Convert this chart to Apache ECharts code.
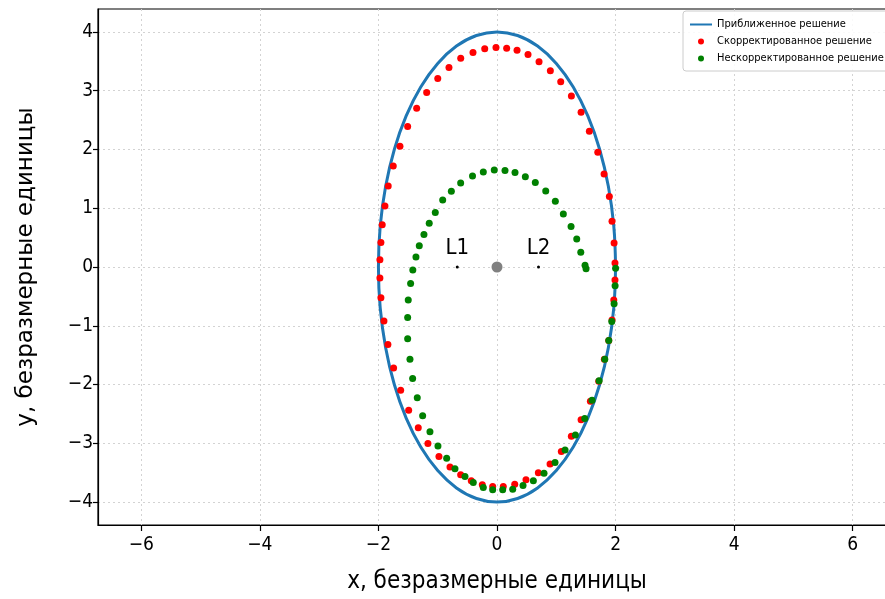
<!DOCTYPE html>
<html>
<head>
<meta charset="utf-8">
<script src="https://cdn.jsdelivr.net/npm/echarts@6/dist/echarts.min.js"></script>
<style>
html,body{margin:0;padding:0;background:#fff;overflow:hidden;width:885px;height:599px;}
#chart{width:896px;height:599px;}
</style>
</head>
<body>
<div id="chart"></div>
<script>
// Tick labels
const xTicks = [-6, -4, -2, 0, 2, 4, 6];
const yTicks = [-4, -3, -2, -1, 0, 1, 2, 3, 4];

// Approximate solution (blue line)
const blueX = [2, 1.970, 1.879, 1.732, 1.532, 1.286, 1.0, 0.684, 0.347, 0,
  -0.347, -0.684, -1.0, -1.286, -1.532, -1.732, -1.879, -1.970, -2,
  -1.970, -1.879, -1.732, -1.532, -1.286, -1.0, -0.684, -0.347, 0,
  0.347, 0.684, 1.0, 1.286, 1.532, 1.732, 1.879, 1.970, 2];
const blueY = [0, 0.695, 1.368, 2.0, 2.571, 3.064, 3.464, 3.759, 3.939, 4,
  3.939, 3.759, 3.464, 3.064, 2.571, 2.0, 1.368, 0.695, 0,
  -0.695, -1.368, -2.0, -2.571, -3.064, -3.464, -3.759, -3.939, -4,
  -3.939, -3.759, -3.464, -3.064, -2.571, -2.0, -1.368, -0.695, 0];

// Corrected solution (red points)
const redX = [1.99, 1.975, 1.94, 1.895, 1.806, 1.700, 1.558,
  1.418, 1.255, 1.075, 0.900, 0.709, 0.523, 0.338, 0.163, -0.017, -0.207, -0.405, -0.612, -0.810, -0.999, -1.186, -1.355, -1.507, -1.637, -1.750, -1.835,
  -1.890, -1.936, -1.958, -1.975, -1.975, -1.958, -1.907, -1.840, -1.744, -1.625, -1.490, -1.328,
  -1.165, -0.979, -0.793, -0.613, -0.434, -0.248, -0.073, 0.106, 0.299, 0.489, 0.697, 0.895, 1.085, 1.254, 1.418, 1.575, 1.716, 1.811, 1.885,
  1.94, 1.97, 1.99];
const redY = [0.07, 0.41, 0.78, 1.198, 1.581, 1.954, 2.310,
  2.632, 2.910, 3.153, 3.339, 3.492, 3.615, 3.689, 3.723, 3.734, 3.712, 3.649, 3.554, 3.395, 3.208, 2.971, 2.700, 2.390, 2.056, 1.717, 1.378,
  1.039, 0.717, 0.419, 0.124, -0.186, -0.525, -0.920, -1.317, -1.717, -2.097, -2.436, -2.734,
  -3.005, -3.225, -3.402, -3.537, -3.639, -3.707, -3.734, -3.734, -3.695, -3.622, -3.503, -3.351, -3.141, -2.881, -2.598, -2.283, -1.944, -1.571, -1.249,
  -0.90, -0.56, -0.22];

// Uncorrected solution (green points)
const greenX = [1.502, 1.485, 1.413, 1.345, 1.249, 1.119, 0.984, 0.822, 0.646, 0.478, 0.304, 0.135, -0.046, -0.231, -0.413, -0.613, -0.770, -0.916,
  -1.041, -1.143, -1.232, -1.311, -1.367, -1.420, -1.457, -1.497, -1.507, -1.507, -1.468, -1.423, -1.345, -1.254, -1.131,
  -0.996, -0.849, -0.709, -0.540, -0.400, -0.231, -0.073, 0.096, 0.265, 0.439, 0.613, 0.793, 0.979, 1.148, 1.322, 1.480, 1.603, 1.722, 1.818, 1.885,
  1.936, 1.975, 1.992, 2.0];
const greenY = [-0.03, 0.03, 0.249, 0.475, 0.690, 0.903, 1.12, 1.293, 1.436, 1.537, 1.610, 1.644, 1.649, 1.615, 1.547, 1.43, 1.288, 1.14,
  0.927, 0.746, 0.554, 0.361, 0.169, -0.05, -0.28, -0.56, -0.86, -1.22, -1.571, -1.898, -2.225, -2.531, -2.802,
  -3.046, -3.254, -3.435, -3.564, -3.666, -3.751, -3.792, -3.792, -3.780, -3.717, -3.639, -3.508, -3.327, -3.113, -2.859, -2.576, -2.266, -1.937, -1.571, -1.249,
  -0.927, -0.627, -0.317, -0.02];

// Central body and libration points
const centerPoint = [0, 0];
const lNames = ['L1', 'L2'];
const lX = [-0.67, 0.70];
const lY = [0, 0];

const seriesNames = ['Приближенное решение', 'Скорректированное решение', 'Нескорректированное решение'];

const zip = (xs, ys) => xs.map((v, i) => [v, ys[i]]);
const minus = v => (v < 0 ? '\u2212' + Math.abs(v) : String(v));
const FONT = "'DejaVu Sans'";
const CFONT = "'DejaVu Sans Condensed', 'DejaVu Sans'";

const chart = echarts.init(document.getElementById('chart'), null, {renderer: 'canvas'});
chart.setOption({
  animation: false,
  backgroundColor: '#ffffff',
  textStyle: {fontFamily: CFONT},
  grid: {left: 98, right: 0, top: 9, bottom: 72, show: true, borderColor: '#000', borderWidth: 1.2, backgroundColor: 'transparent'},
  legend: {
    orient: 'vertical', left: 683, top: 11,
    data: [
      {name: seriesNames[0], itemStyle: {opacity: 0}},
      {name: seriesNames[1], icon: 'circle'},
      {name: seriesNames[2], icon: 'circle'}
    ],
    itemWidth: 22, itemHeight: 6, itemGap: 6,
    textStyle: {fontFamily: CFONT, fontSize: 11, color: '#000'},
    backgroundColor: 'rgba(255,255,255,0.85)', borderColor: '#cccccc', borderWidth: 1, borderRadius: 3,
    padding: [8, 8, 7, 6]
  },
  xAxis: {
    type: 'value', min: -6.73, max: 6.73,
    name: 'x, безразмерные единицы', nameLocation: 'middle', nameGap: 45,
    nameTextStyle: {fontFamily: CFONT, fontSize: 24, color: '#000'},
    axisLine: {show: true, onZero: false, lineStyle: {color: '#000', width: 1.2}},
    axisTick: {show: true, customValues: xTicks, length: 6, lineStyle: {color: '#000', width: 1.2}},
    axisLabel: {customValues: xTicks, formatter: minus, fontFamily: CFONT, fontSize: 19, color: '#000', margin: 11},
    splitLine: {show: true, lineStyle: {color: '#d3d3d3', type: [2, 3], width: 1}}
  },
  yAxis: {
    type: 'value', min: -4.39, max: 4.39,
    name: 'y, безразмерные единицы', nameLocation: 'middle', nameGap: 60,
    nameTextStyle: {fontFamily: FONT, fontSize: 23, color: '#000'},
    axisLine: {show: true, onZero: false, lineStyle: {color: '#000', width: 1.2}},
    axisTick: {show: true, customValues: yTicks, length: 5, lineStyle: {color: '#000', width: 1.2}},
    axisLabel: {customValues: yTicks, formatter: minus, fontFamily: CFONT, fontSize: 19, color: '#000', margin: 5},
    splitLine: {show: true, lineStyle: {color: '#d3d3d3', type: [2, 3], width: 1}}
  },
  series: [
    {
      name: seriesNames[0], type: 'line', data: zip(blueX, blueY), symbol: 'none', smooth: 0.4,
      lineStyle: {color: '#1f77b4', width: 3}, itemStyle: {color: '#1f77b4'}, z: 2
    },
    {
      name: seriesNames[1], type: 'scatter', data: zip(redX, redY), symbolSize: 7,
      itemStyle: {color: '#ff0000', opacity: 1}, z: 3
    },
    {
      name: seriesNames[2], type: 'scatter', data: zip(greenX, greenY), symbolSize: 7,
      itemStyle: {color: '#008000', opacity: 1}, z: 4
    },
    {
      name: 'center', type: 'scatter', data: [centerPoint], symbolSize: 11,
      itemStyle: {color: '#808080', opacity: 1}, z: 5
    },
    {
      name: 'L', type: 'scatter', data: lX.map((v, i) => ({value: [v, lY[i]], name: lNames[i]})), symbolSize: 3,
      itemStyle: {color: '#000', opacity: 1}, z: 5,
      label: {show: true, position: 'top', distance: 6, formatter: p => p.name, fontFamily: CFONT, fontSize: 22, color: '#000'}
    }
  ]
});
</script>
</body>
</html>
